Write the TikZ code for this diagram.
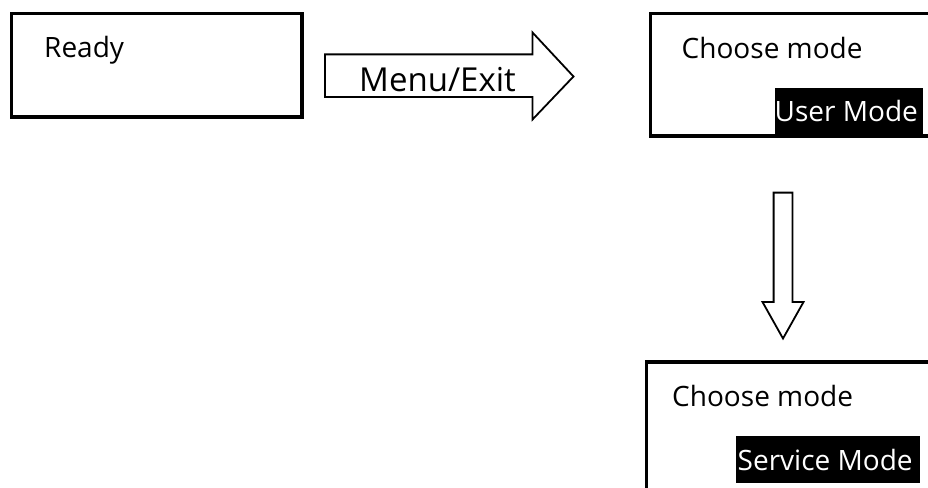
\documentclass[tikz,border=0pt]{standalone}
\usepackage{fontspec}
\setmainfont{Open Sans}
\begin{document}
\begin{tikzpicture}[x=1pt,y=-1pt,
  frame/.style={draw=black,line width=3.5pt,inner sep=0pt,anchor=north west},
  lbl/.style={inner sep=0pt,anchor=base west,font=\fontsize{28}{32}\selectfont},
  biglbl/.style={inner sep=0pt,anchor=base west,font=\fontsize{33}{38}\selectfont},
  hl/.style={fill=black,inner sep=0pt,anchor=north west},
  blockarrow/.style={draw=black,line width=1.8pt,fill=white,line join=miter}]
\useasboundingbox (0,0) rectangle (928,487);
\clip (0,0) rectangle (928,487);
% highlights
\node[hl,minimum width=148pt,minimum height=48pt] (userhl) at (775,88) {};
\node[hl,minimum width=184pt,minimum height=47pt] (servhl) at (736,436) {};
% boxes
\node[frame,minimum width=290.5pt,minimum height=103.5pt] (ready) at (9.75,11.75) {};
\node[frame,minimum width=300pt,minimum height=122.5pt] (mode1) at (648.75,11.75) {};
\node[frame,minimum width=300pt,minimum height=128.25pt] (mode2) at (644.75,360.25) {};
% block arrows
\draw[blockarrow] (324.9,54.4) -- (532.5,54.4) -- (532.5,32.5) -- (573.5,76.5) -- (532.5,119.5) -- (532.5,97) -- (324.9,97) -- cycle;
\draw[blockarrow] (773.6,192.6) -- (792.4,192.6) -- (792.4,302) -- (803.5,302) -- (783,338.5) -- (762.5,302) -- (773.6,302) -- cycle;
% texts
\node[lbl] (tready) at (44,58) {Ready};
\node[biglbl] (tmenu) at (359,91.5) {Menu/Exit};
\node[lbl] (tchoose1) at (681.5,59) {Choose mode};
\node[lbl,text=white] (tuser) at (774.5,121.7) {User Mode};
\node[lbl] (tchoose2) at (672,406.7) {Choose mode};
\node[lbl,text=white] (tserv) at (737.5,470) {Service Mode};
\end{tikzpicture}
\end{document}
